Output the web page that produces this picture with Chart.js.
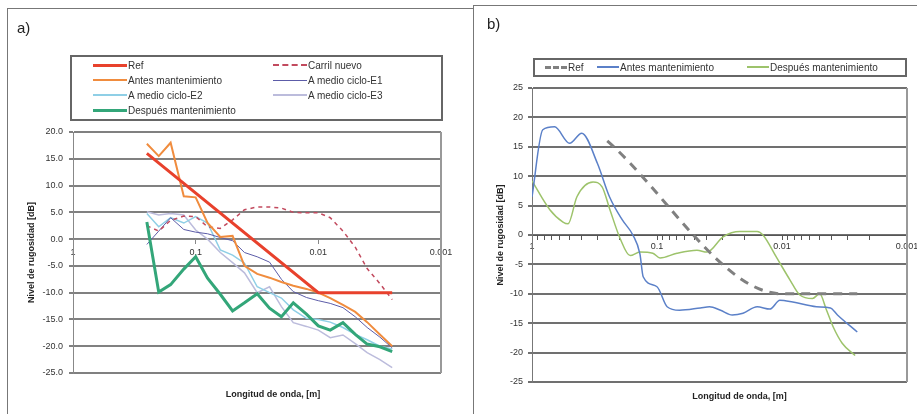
<!DOCTYPE html>
<html>
<head>
<meta charset="utf-8">
<script src="https://cdn.jsdelivr.net/npm/chart.js@4.4.0/dist/chart.umd.min.js"></script>
<style>
  html, body { margin: 0; padding: 0; background: #fff; }
  body { width: 917px; height: 414px; position: relative; overflow: hidden;
         font-family: "Liberation Sans", Arial, sans-serif; }
  .frame { position: absolute; border-left: 1px solid #777; border-top: 1px solid #777; }
  canvas { position: absolute; top: 0; }
  .tag { position: absolute; font-size: 15px; color: #222; }
  .legend { position: absolute; box-sizing: border-box; border: 2px solid #666; font-size: 10px; color: #333; }
  .item { position: absolute; display: flex; align-items: center; height: 14px; white-space: nowrap; }
  .swatch { display: inline-block; height: 0; margin-right: 1px; }
</style>
</head>
<body>
<div class="frame" style="left:7px;top:8px;width:466px;height:420px"></div>
<div class="frame" style="left:473px;top:5px;width:460px;height:420px"></div>
<canvas id="chartA" width="467" height="414" style="left:0"></canvas>
<canvas id="chartB" width="447" height="414" style="left:470px"></canvas>
<div class="tag" style="left:17px;top:19px">a)</div>
<div class="tag" style="left:487px;top:15px">b)</div>
<div class="legend" id="legendA" style="left:70px;top:55px;width:373px;height:66px"></div>
<div class="legend" id="legendB" style="left:533px;top:58px;width:374px;height:19px"></div>

<script>
// wavelength bands (m) used in panel a
const bandsA = [0.25, 0.2, 0.16, 0.125, 0.1, 0.08, 0.063, 0.05, 0.04, 0.0315, 0.025,
                0.02, 0.016, 0.0125, 0.01, 0.008, 0.0063, 0.005, 0.004, 0.00315, 0.0025];

// reference limit (both panels)
const refLambda = [0.25, 0.01, 0.0025];
const refLevel = [16, -10, -10];

// panel a series, dB
const carrilNuevo = [2.5, 1.5, 3.5, 4.3, 4.2, 2.3, 2.0, 3.6, 5.5, 6.0, 6.0, 5.8, 5.0, 4.9, 4.9, 4.0, 1.5, -1.5, -5.5, -8.3, -11.3];
const antesA = [17.8, 15.5, 18.0, 8.0, 7.8, 3.0, 0.4, 0.6, -5.0, -6.5, -7.2, -8.0, -8.7, -9.3, -10.0, -11.0, -12.3, -13.6, -15.5, -17.8, -20.0];
const medioE1 = [-1.0, 1.5, 4.0, 1.8, 1.3, 1.0, 0.3, -0.3, -2.5, -3.3, -4.3, -7.5, -9.8, -10.9, -11.5, -12.0, -12.8, -14.5, -16.5, -18.3, -20.3];
const medioE2 = [4.8, 2.3, 4.0, 3.0, 4.2, 3.0, -2.0, -3.0, -4.5, -8.9, -10.0, -11.0, -13.2, -14.8, -15.0, -15.5, -16.5, -17.8, -18.8, -20.0, -20.5];
const medioE3 = [5.1, 4.5, 4.8, 4.5, 1.7, 0.0, -2.5, -4.4, -6.3, -10.0, -8.9, -12.6, -15.6, -16.3, -17.0, -18.4, -17.9, -19.5, -21.2, -22.5, -24.0];
const despuesA = [3.2, -9.9, -8.5, -5.6, -3.3, -7.3, -10.3, -13.4, -11.9, -10.2, -12.9, -14.5, -11.9, -14.0, -16.2, -17.0, -15.6, -17.8, -19.6, -20.1, -21.0];

// panel b series
const antesBLambda = [1.0, 0.82, 0.66, 0.5, 0.4, 0.3, 0.24, 0.19, 0.156, 0.137, 0.129, 0.1, 0.083, 0.066,
                      0.045, 0.038, 0.031, 0.025, 0.0205, 0.0158, 0.0125, 0.0104, 0.0082, 0.0053, 0.0041, 0.0036, 0.0025];
const antesBLevel = [6.5, 17.9, 18.4, 15.6, 17.3, 12.2, 6.5, 2.6, 0.0, -3.2, -7.1, -8.8, -12.2, -12.8,
                     -12.4, -12.2, -12.8, -13.6, -13.3, -12.2, -12.6, -11.1, -11.4, -12.2, -12.4, -13.6, -16.5];
const despuesBLambda = [1.0, 0.72, 0.565, 0.515, 0.437, 0.325, 0.275, 0.238, 0.198, 0.164, 0.137, 0.108, 0.0946, 0.0692,
                        0.0479, 0.0398, 0.0296, 0.0217, 0.0158, 0.0142, 0.011, 0.0086, 0.0072, 0.0057, 0.005, 0.0044, 0.0039, 0.0033, 0.0026];
const despuesBLevel = [9.2, 4.3, 2.2, 1.9, 6.5, 9.0, 8.2, 4.3, -0.5, -3.5, -2.9, -3.1, -3.9, -3.1,
                       -2.6, -2.9, -0.3, 0.6, 0.6, 0.0, -3.9, -7.7, -10.2, -10.8, -10.0, -12.8, -15.6, -18.4, -20.5];

// ticks
const xTickValues = [1, 0.1, 0.01, 0.001];
const xTickLabels = ['1', '0.1', '0.01', '0.001'];
const yTicksA = [20, 15, 10, 5, 0, -5, -10, -15, -20, -25];
const yTicksB = [25, 20, 15, 10, 5, 0, -5, -10, -15, -20, -25];

Chart.defaults.font.family = '"Liberation Sans", Arial, sans-serif';
Chart.defaults.color = '#333';

const pts = (xs, ys) => xs.map((x, i) => ({ x: x, y: ys[i] }));
const decadeLabel = v => {
  const i = xTickValues.findIndex(t => Math.abs(Math.log10(t) - Math.log10(v)) < 1e-6);
  return i < 0 ? '' : xTickLabels[i];
};

// right edge of the plot area
const framePlugin = {
  id: 'frame',
  beforeDatasetsDraw(chart, args, opts) {
    const { ctx, chartArea: a } = chart;
    ctx.save();
    ctx.strokeStyle = opts.color;
    ctx.lineWidth = 2;
    ctx.beginPath();
    ctx.moveTo(a.right, a.top);
    ctx.lineTo(a.right, a.bottom);
    ctx.stroke();
    ctx.restore();
  }
};
// nudge the x title like Excel does
const shiftTitlePlugin = {
  id: 'shiftTitle',
  afterLayout(chart, args, opts) {
    const s = chart.scales.xt;
    s.left += opts.dx;
    s.right += opts.dx;
  }
};

function titleAxis(h, padBottom, text) {
  return {
    type: 'linear', position: 'bottom',
    ticks: { display: false },
    grid: { display: false, drawTicks: false },
    border: { display: false },
    title: { display: true, text: text, color: '#222', font: { size: 9, weight: 'bold' }, padding: { top: 0, bottom: padBottom } },
    afterFit: s => { s.height = h; }
  };
}

function buildLegend(chart, el, spots, swatchW) {
  chart.data.datasets.forEach((ds, i) => {
    const item = document.createElement('div');
    item.className = 'item';
    item.style.left = spots[i][0] + 'px';
    item.style.top = spots[i][1] + 'px';
    const sw = document.createElement('span');
    sw.className = 'swatch';
    sw.style.width = swatchW + 'px';
    sw.style.borderTop = Math.max(1, Math.round(ds.borderWidth)) + 'px ' + (ds.borderDash ? 'dashed ' : 'solid ') + ds.borderColor;
    item.appendChild(sw);
    item.appendChild(document.createTextNode(ds.label));
    el.appendChild(item);
  });
}

const chartA = new Chart(document.getElementById('chartA'), {
  type: 'line',
  data: {
    datasets: [
      { label: 'Ref', data: pts(refLambda, refLevel), borderColor: '#e8412c', borderWidth: 3, order: 0 },
      { label: 'Carril nuevo', data: pts(bandsA, carrilNuevo), borderColor: '#c24a5e', borderWidth: 1.5, borderDash: [4, 4], order: 3 },
      { label: 'Antes mantenimiento', data: pts(bandsA, antesA), borderColor: '#f08c3e', borderWidth: 2, order: 2 },
      { label: 'A medio ciclo-E1', data: pts(bandsA, medioE1), borderColor: '#5c5ca8', borderWidth: 1, order: 4 },
      { label: 'A medio ciclo-E2', data: pts(bandsA, medioE2), borderColor: '#8fcfe6', borderWidth: 1.5, order: 5 },
      { label: 'A medio ciclo-E3', data: pts(bandsA, medioE3), borderColor: '#bcbcdc', borderWidth: 1.5, order: 6 },
      { label: 'Después mantenimiento', data: pts(bandsA, despuesA), borderColor: '#33a679', borderWidth: 3, order: 1 }
    ]
  },
  options: {
    responsive: false,
    animation: false,
    elements: { point: { radius: 0 }, line: { tension: 0 } },
    layout: { padding: { left: 14, right: 26, top: 132, bottom: 0 } },
    plugins: { legend: { display: false }, tooltip: { enabled: false },
               frame: { color: '#999' }, shiftTitle: { dx: 16 } },
    scales: {
      x: {
        type: 'logarithmic', reverse: true, min: 0.001, max: 1, position: { y: 0 },
        afterBuildTicks: s => { s.ticks = xTickValues.map(v => ({ value: v })); },
        ticks: { autoSkip: false, maxRotation: 0, padding: 4, font: { size: 9 }, callback: v => decadeLabel(v) },
        grid: { drawOnChartArea: false, tickLength: 4, color: '#888' },
        border: { color: '#888' }
      },
      xt: titleAxis(41, 14, 'Longitud de onda, [m]'),
      y: {
        min: -25, max: 20,
        afterBuildTicks: s => { s.ticks = yTicksA.map(v => ({ value: v })); },
        ticks: { font: { size: 9 }, padding: 6, callback: v => v.toFixed(1) },
        grid: { color: '#808080', lineWidth: 2, tickLength: 4 },
        border: { color: '#888' },
        title: { display: true, text: 'Nivel de rugosidad [dB]', color: '#222', font: { size: 9, weight: 'bold' }, padding: { top: 12, bottom: 0 } },
        afterFit: s => { s.width = 59; }
      }
    }
  },
  plugins: [framePlugin, shiftTitlePlugin]
});

const chartB = new Chart(document.getElementById('chartB'), {
  type: 'line',
  data: {
    datasets: [
      { label: 'Ref', data: pts(refLambda, refLevel), borderColor: '#808080', borderWidth: 3, borderDash: [9, 7], order: 0 },
      { label: 'Antes mantenimiento', data: pts(antesBLambda, antesBLevel), borderColor: '#5b80c8', borderWidth: 1.5, order: 1 },
      { label: 'Después mantenimiento', data: pts(despuesBLambda, despuesBLevel), borderColor: '#9dc36b', borderWidth: 1.5, order: 2 }
    ]
  },
  options: {
    responsive: false,
    animation: false,
    elements: { point: { radius: 0 }, line: { cubicInterpolationMode: 'monotone' } },
    layout: { padding: { left: 12, right: 10, top: 88, bottom: 0 } },
    plugins: { legend: { display: false }, tooltip: { enabled: false },
               frame: { color: '#999' }, shiftTitle: { dx: 20 } },
    scales: {
      x: {
        type: 'logarithmic', reverse: true, min: 0.001, max: 1, position: { y: 0 },
        afterBuildTicks: s => {
          const t = [];
          xTickValues.slice(1).forEach(d => { for (let k = 1; k < 10; k++) t.push({ value: d * k }); });
          t.push({ value: 1 });
          s.ticks = t;
        },
        ticks: { autoSkip: false, maxRotation: 0, padding: 2, font: { size: 9 }, callback: v => decadeLabel(v) },
        grid: { drawOnChartArea: false, tickLength: 4, color: '#555' },
        border: { color: '#555' }
      },
      xt: titleAxis(32, 12, 'Longitud de onda, [m]'),
      y: {
        min: -25, max: 25,
        afterBuildTicks: s => { s.ticks = yTicksB.map(v => ({ value: v })); },
        ticks: { font: { size: 9 }, padding: 5 },
        grid: { color: '#707070', lineWidth: 2, tickLength: 4 },
        border: { color: '#777' },
        title: { display: true, text: 'Nivel de rugosidad [dB]', color: '#222', font: { size: 9, weight: 'bold' }, padding: { top: 13, bottom: 0 } },
        afterFit: s => { s.width = 50; }
      }
    }
  },
  plugins: [framePlugin, shiftTitlePlugin]
});

buildLegend(chartA, document.getElementById('legendA'),
  [[21, 1], [201, 1], [21, 16], [201, 16], [21, 31], [201, 31], [21, 46]], 34);
buildLegend(chartB, document.getElementById('legendB'),
  [[10, 0], [62, 0], [212, 0]], 22);
</script>
</body>
</html>
